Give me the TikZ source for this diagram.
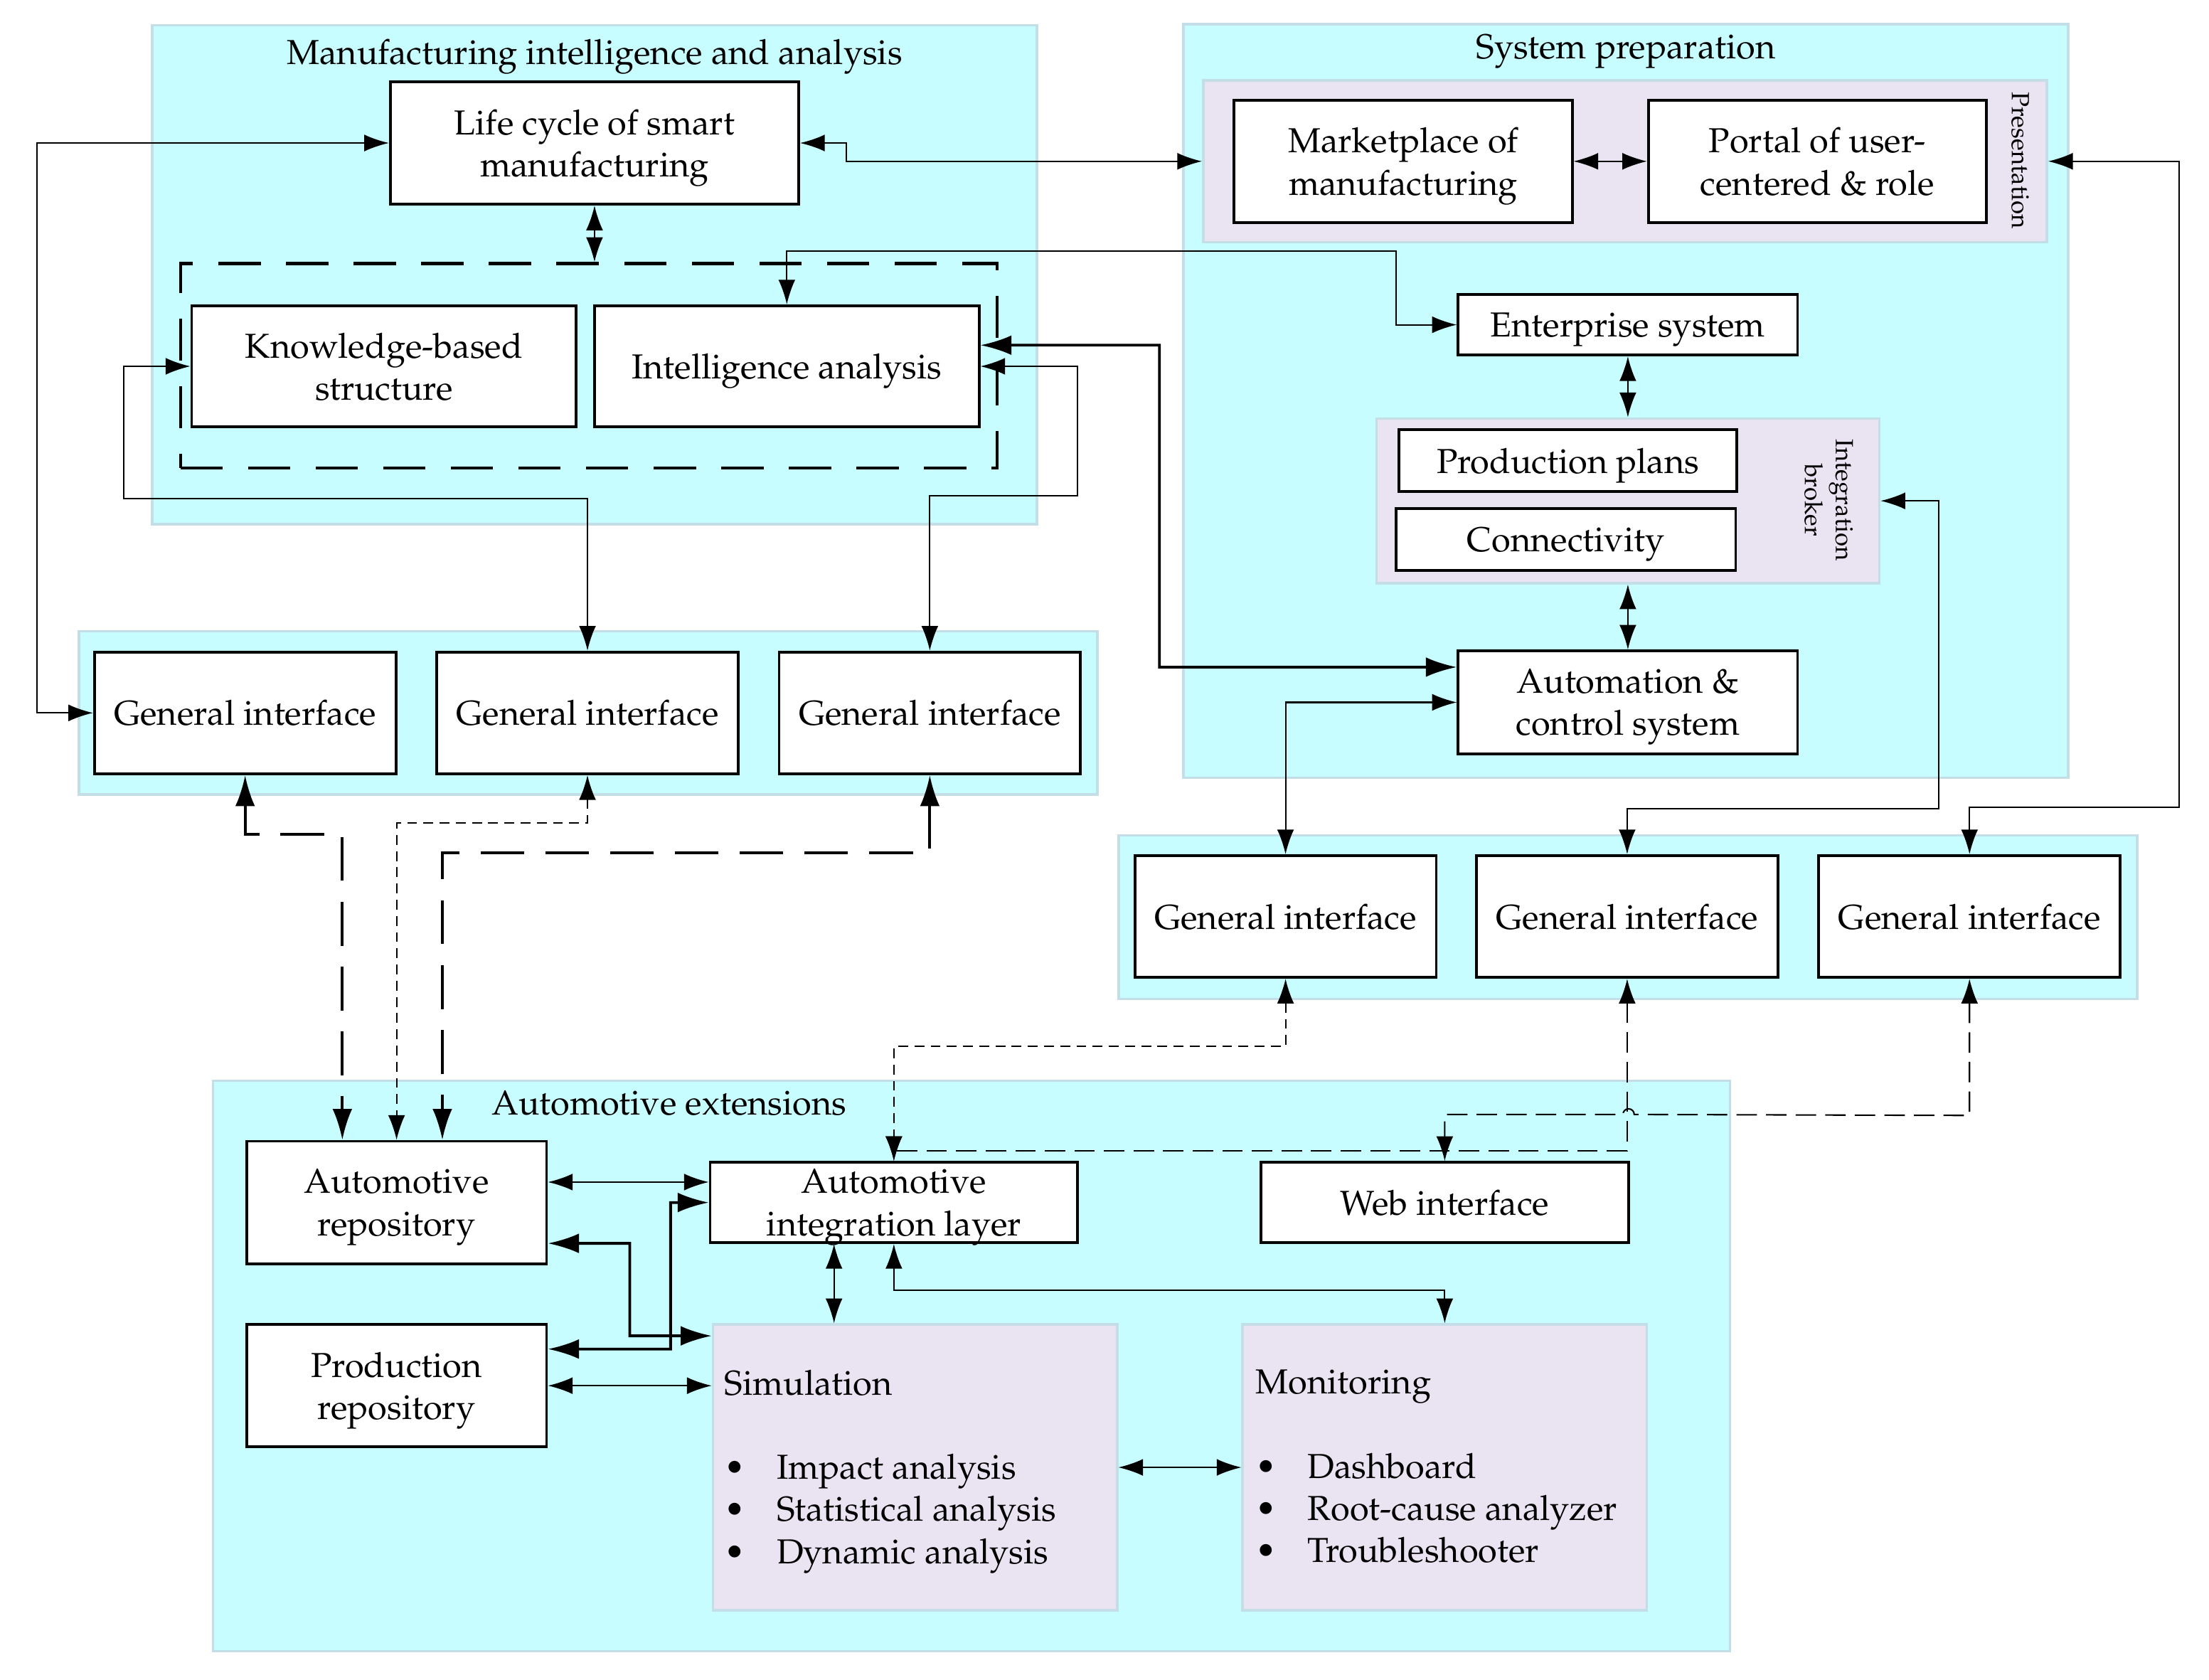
\documentclass[tikz,border=0pt]{standalone}
\usepackage[T1]{fontenc}
\usepackage{mathpazo}
\usetikzlibrary{arrows.meta}
\definecolor{cyanbg}{RGB}{200,253,255}
\definecolor{grpline}{RGB}{195,222,230}
\definecolor{lavbg}{RGB}{234,228,242}
\newcommand{\itembul}{\makebox[0.74cm][l]{\textbullet}}
\begin{document}
\begin{tikzpicture}[x=0.02cm,y=-0.02cm,font=\fontsize{14}{17}\selectfont,
	group/.style={shape=rectangle,fill=cyanbg,draw=grpline,line width=1pt,inner sep=0},
	subgroup/.style={group,fill=lavbg},
	heading/.style={text depth=0pt},
	block/.style={shape=rectangle,draw=black,line width=1.1pt,fill=white,align=center,inner sep=1pt,text depth=0pt},
	vtext/.style={font=\fontsize{10}{12.5}\selectfont,rotate=-90,align=center,inner sep=0},
	link/.style={line width=0.6pt,{Latex[length=0.35cm,width=0.24cm]}-{Latex[length=0.35cm,width=0.24cm]}},
	heavy/.style={line width=1.1pt,{Latex[length=0.44cm,width=0.28cm]}-{Latex[length=0.44cm,width=0.28cm]}},
	longdash/.style={heavy,dash pattern=on 0.62cm off 0.3cm},
	middash/.style={link,dash pattern=on 0.29cm off 0.13cm},
	shortdash/.style={link,dash pattern=on 0.14cm off 0.09cm}]
	\useasboundingbox (0,0) rectangle (1568,1192);

	\node (mia) at (422,195) [group,minimum width=12.56cm,minimum height=7.08cm] {};
	\node (sysprep) at (1154,284.5) [group,minimum width=12.56cm,minimum height=10.7cm] {};
	\node (giRowA) at (417.5,506) [group,minimum width=14.46cm,minimum height=2.32cm] {};
	\node (giRowB) at (1155.5,651) [group,minimum width=14.46cm,minimum height=2.32cm] {};
	\node (ae) at (689.5,969.5) [group,minimum width=21.54cm,minimum height=8.1cm] {};
	\node (pres) at (1153.5,114.5) [subgroup,minimum width=11.98cm,minimum height=2.3cm] {};
	\node (broker) at (1155.5,355.5) [subgroup,minimum width=7.14cm,minimum height=2.34cm] {};
	\node (sim) at (649.5,1041.5) [subgroup,minimum width=5.74cm,minimum height=4.06cm] {};
	\node (mon) at (1025.5,1041.5) [subgroup,minimum width=5.74cm,minimum height=4.06cm] {};
	\node (intelgrp) at (418,259.5) [draw,line width=1.2pt,dash pattern=on 0.6cm off 0.36cm,minimum width=11.6cm,minimum height=2.9cm] {};

	\node (miaTitle) at (422,37) [heading] {Manufacturing intelligence and analysis};
	\node (sysTitle) at (1154,33) [heading] {System preparation};
	\node (aeTitle) at (475,783) [heading] {Automotive extensions};
	\node (presTitle) at (1434,114) [vtext] {Presentation};
	\node (brokerTitle) at (1298,355) [vtext] {Integration\\broker};

	\node (life) at (422,101.5) [block,minimum width=5.8cm,minimum height=1.74cm] {Life cycle of smart\\manufacturing};
	\node (know) at (272.5,260) [block,minimum width=5.46cm,minimum height=1.72cm] {Knowledge-based\\structure};
	\node (intel) at (558.5,260) [block,minimum width=5.46cm,minimum height=1.72cm] {Intelligence analysis};
	\foreach \name/\x/\y in {giA1/174/506,giA2/417/506,giA3/660/506,giB1/912.5/650.5,giB2/1155/650.5,giB3/1398/650.5}
		\node (\name) at (\x,\y) [block,minimum width=4.28cm,minimum height=1.73cm] {General interface};
	\node (market) at (996,114.5) [block,minimum width=4.8cm,minimum height=1.74cm] {Marketplace of\\manufacturing};
	\node (portal) at (1290,114.5) [block,minimum width=4.8cm,minimum height=1.74cm] {Portal of user-\\centered \& role};
	\node (enterprise) at (1155.5,230.5) [block,minimum width=4.82cm,minimum height=0.86cm] {Enterprise system};
	\node (plans) at (1113,327) [block,minimum width=4.8cm,minimum height=0.88cm] {Production plans};
	\node (connect) at (1111.5,383) [block,minimum width=4.82cm,minimum height=0.88cm] {Connectivity};
	\node (automation) at (1155.5,498.5) [block,minimum width=4.82cm,minimum height=1.46cm] {Automation \&\\control system};
	\node (autorepo) at (281.5,853.5) [block,minimum width=4.26cm,minimum height=1.74cm] {Automotive\\repository};
	\node (prodrepo) at (281.5,983.5) [block,minimum width=4.26cm,minimum height=1.74cm] {Production\\repository};
	\node (intlayer) at (634.5,853.5) [block,minimum width=5.22cm,minimum height=1.14cm] {Automotive\\integration layer};
	\node (web) at (1025.5,853.5) [block,minimum width=5.22cm,minimum height=1.14cm] {Web interface};

	\node (simText) at (514,972) [anchor=north west,inner sep=0,align=left] {Simulation\\[17pt]\itembul Impact analysis\\\itembul Statistical analysis\\\itembul Dynamic analysis};
	\node (monText) at (891,972) [anchor=north west,inner sep=0,align=left] {Monitoring\\[17pt]\itembul Dashboard\\\itembul Root-cause analyzer\\\itembul Troubleshooter};

	\draw[link] (life.west) -- ++(-250,0) |- (giA1.west);
	\draw[link] (life.east) -- ++(33,0) |- (pres.west);
	\draw[link] (life.south) -- (life.south |- intelgrp.north);
	\draw[link] (intel.north) |- (991,178) |- (enterprise.west);
	\draw[heavy] ([yshift=0.3cm]intel.east) -- (823,245) |- ([yshift=0.5cm]automation.west);
	\draw[link] (intel.east) -| (765,352) -| (giA3.north);
	\draw[link] (know.west) -| (88,354) -| (giA2.north);
	\draw[link] (enterprise.south) -- (broker.north);
	\draw[link] (broker.south) -- (automation.north);
	\draw[link] (market.east) -- (portal.west);
	\draw[link] (pres.east) -| (1547,573) -| (giB3.north);
	\draw[link] (broker.east) -| (1376,574) -| (giB2.north);
	\draw[link] (automation.west) -| (giB1.north);

	\draw[longdash] (giA1.south) -- ++(0,42) -| ([xshift=-0.77cm]autorepo.north);
	\draw[shortdash] (giA2.south) -- ++(0,34) -| (autorepo.north);
	\draw[longdash] (giA3.south) -- ++(0,55) -| ([xshift=0.65cm]autorepo.north);
	\draw[shortdash] (giB1.south) -- ++(0,48) -| (intlayer.north);
	\draw[middash] (giB2.south) -- ++(0,122) -| (intlayer.north);
	\draw[middash] (giB3.south) -- ++(0,97) -- (1160,791) arc[start angle=0,end angle=-180,radius=4] -| (web.north);

	\draw[link] ([yshift=0.29cm]autorepo.east) -- ([yshift=0.29cm]intlayer.west);
	\draw[heavy] ([yshift=-0.58cm]autorepo.east) -- (447,882.5) |- ([yshift=-0.18cm]sim.north west);
	\draw[heavy] ([yshift=0.52cm]prodrepo.east) -- (476,957.5) |- (intlayer.west);
	\draw[link] (prodrepo.east) -- (prodrepo.east -| sim.west);
	\draw[link] ([xshift=-0.85cm]intlayer.south) -- ([xshift=-0.85cm]intlayer.south |- sim.north);
	\draw[link] (intlayer.south) -- ++(0,33) -| (mon.north);
	\draw[link] (sim.east) -- (mon.west);
\end{tikzpicture}
\end{document}
